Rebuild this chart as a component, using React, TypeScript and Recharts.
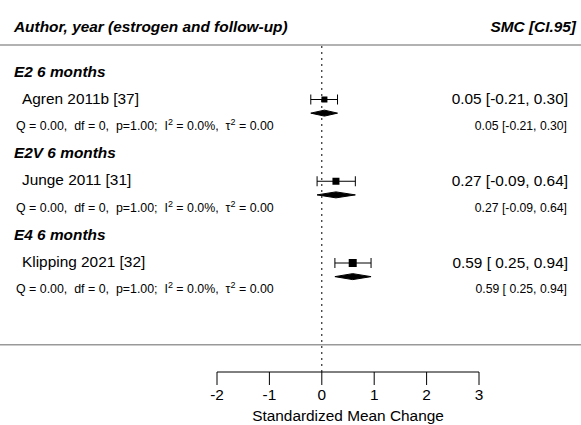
import { ScatterChart, Scatter, XAxis, YAxis, ReferenceLine, ErrorBar } from "recharts";

// values
const groups = ["E2 6 months", "E2V 6 months", "E4 6 months"];
const studies = ["Agren 2011b [37]", "Junge 2011 [31]", "Klipping 2021 [32]"];
const smc = [0.05, 0.27, 0.59];
const ciLow = [-0.21, -0.09, 0.25];
const ciHigh = [0.3, 0.64, 0.94];
const hetQ = [0, 0, 0];
const hetDf = [0, 0, 0];
const hetP = [1, 1, 1];
const hetI2 = [0, 0, 0];
const hetTau2 = [0, 0, 0];
const xTicks = [-2, -1, 0, 1, 2, 3];

// layout
const W = 581;
const H = 425;
const FONT = '"Liberation Sans", Arial, Helvetica, sans-serif';
const axisLeftPx = 217; // where -2 lands
const axisRightPx = 479; // where 3 lands
const axisPx = 372; // y of the axis line
const rowPx = 27.25;
const squareSize = [6, 7, 8];
const diamondHalf = 0.11; // rows

const pxPerUnit = (axisRightPx - axisLeftPx) / (xTicks[xTicks.length - 1] - xTicks[0]);
const xMin = xTicks[0] - axisLeftPx / pxPerUnit;
const xMax = xTicks[xTicks.length - 1] + (W - axisRightPx) / pxPerUnit;
const yMax = axisPx / rowPx;

const groupTop = (i: number) => 11 - 3 * i;
const fmt = (v: number) => v.toFixed(2);
const fmtCI = (i: number) =>
  `${fmt(smc[i])} [${ciLow[i] < 0 ? "" : " "}${fmt(ciLow[i])}, ${fmt(ciHigh[i])}]`;

const textRows: any[] = [
  { x: 0, y: 12.66, kind: "colHead", text: "Author, year (estrogen and follow-up)" },
  { x: 0, y: 12.66, kind: "colHeadR", text: "SMC [CI.95]" },
  ...groups.flatMap((g, i) => {
    const r = groupTop(i);
    return [
      { x: 0, y: r, kind: "group", text: g },
      { x: 0, y: r - 1, kind: "study", text: studies[i] },
      { x: 0, y: r - 1, kind: "value", text: fmtCI(i) },
      { x: 0, y: r - 2, kind: "stats", i },
      { x: 0, y: r - 2, kind: "statsR", text: fmtCI(i) },
    ];
  }),
];

const textStyle: Record<string, { x: number; anchor: string; size: number; bold?: boolean; dy: number }> = {
  colHead: { x: 14, anchor: "start", size: 15.4, bold: true, dy: 4.5 },
  colHeadR: { x: 576, anchor: "end", size: 15.4, bold: true, dy: 4.5 },
  group: { x: 14, anchor: "start", size: 15.4, bold: true, dy: 4.3 },
  study: { x: 22, anchor: "start", size: 15.4, dy: 4 },
  value: { x: 568, anchor: "end", size: 15.4, dy: 4.5 },
  stats: { x: 16, anchor: "start", size: 12.4, dy: 3.2 },
  statsR: { x: 567, anchor: "end", size: 12.2, dy: 3.2 },
};

const studyData = studies.map((s, i) => ({
  x: smc[i],
  y: groupTop(i) - 1,
  ci: [smc[i] - ciLow[i], ciHigh[i] - smc[i]],
  i,
}));

function TextShape(props: any) {
  const { cy, payload } = props;
  const st = textStyle[payload.kind];
  const common = {
    x: st.x,
    y: cy + st.dy,
    textAnchor: st.anchor as any,
    fontSize: st.size,
    fontFamily: FONT,
    fontWeight: st.bold ? "bold" : "normal",
    fontStyle: st.bold ? "italic" : "normal",
    fill: "#000",
    style: { whiteSpace: "pre" as const },
  };
  if (payload.kind === "stats") {
    const i = payload.i;
    return (
      <text {...common}>
        {`Q = ${fmt(hetQ[i])},  df = ${hetDf[i]},  p=${fmt(hetP[i])};  I`}
        <tspan dy={-5} fontSize={9}>2</tspan>
        <tspan dy={5}>{` = ${hetI2[i].toFixed(1)}%,  τ`}</tspan>
        <tspan dy={-5} fontSize={9}>2</tspan>
        <tspan dy={5}>{` = ${fmt(hetTau2[i])}`}</tspan>
      </text>
    );
  }
  return <text {...common}>{payload.text}</text>;
}

export default function App() {
  return (
    <div style={{ position: "absolute", left: 0, top: 0, width: W, height: H, background: "#fff" }}>
      <ScatterChart width={W} height={H} margin={{ top: 0, right: 0, bottom: 0, left: 0 }}>
        <XAxis
          type="number"
          dataKey="x"
          domain={[xMin, xMax]}
          allowDataOverflow
          ticks={xTicks}
          interval={0}
          axisLine={false}
          tickLine={{ stroke: "#000" }}
          tickSize={13}
          tickMargin={4}
          height={H - axisPx}
          tick={{ fill: "#000", fontSize: 15.4, fontFamily: FONT }}
        />
        <YAxis type="number" dataKey="y" domain={[0, yMax]} allowDataOverflow hide />
        <ReferenceLine y={12} stroke="#999" strokeWidth={1.5} />
        <ReferenceLine y={1} stroke="#999" strokeWidth={1.5} />
        <ReferenceLine
          segment={[{ x: 0, y: 0 }, { x: 0, y: 12 }]}
          stroke="#000"
          strokeDasharray="2 4"
        />
        <ReferenceLine
          segment={[{ x: xTicks[0], y: 0 }, { x: xTicks[xTicks.length - 1], y: 0 }]}
          stroke="#000"
          label={{
            value: "Standardized Mean Change",
            position: "bottom",
            offset: 38,
            fill: "#000",
            fontSize: 15.4,
            fontFamily: FONT,
          }}
        />
        {groups.map((g, i) => {
          const r = groupTop(i) - 1.5;
          const pts = [
            { x: ciLow[i], y: r },
            { x: smc[i], y: r + diamondHalf },
            { x: ciHigh[i], y: r },
            { x: smc[i], y: r - diamondHalf },
            { x: ciLow[i], y: r },
          ];
          return (
            <Scatter
              key={g}
              data={pts}
              line={{ fill: "#000", stroke: "#000", strokeWidth: 1 }}
              lineType="joint"
              shape={() => <g />}
              isAnimationActive={false}
            />
          );
        })}
        <Scatter
          data={studyData}
          isAnimationActive={false}
          shape={(p: any) => {
            const s = squareSize[p.payload.i];
            return <rect x={p.cx - s / 2} y={p.cy - s / 2} width={s} height={s} fill="#000" />;
          }}
        >
          <ErrorBar dataKey="ci" direction="x" width={5} stroke="#000" strokeWidth={1} />
        </Scatter>
        <Scatter data={textRows} shape={TextShape} isAnimationActive={false} />
      </ScatterChart>
    </div>
  );
}
